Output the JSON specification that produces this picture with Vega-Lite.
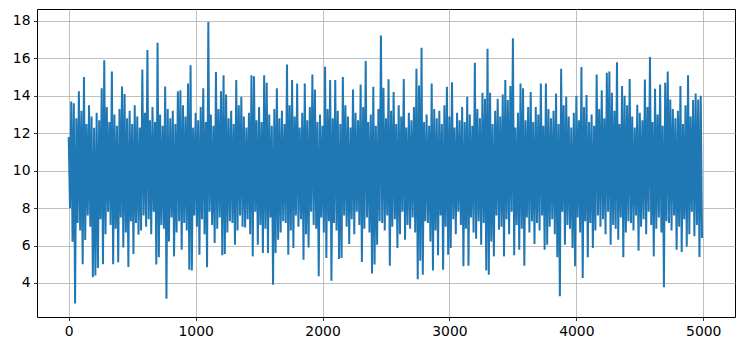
{
"$schema": "https://vega.github.io/schema/vega-lite/v6.json",
"width": 698, "height": 308,
"autosize": "none",
"padding": {"left": 37, "top": 9, "right": 9, "bottom": 34},
"background": "white",
"config": {"view": {"stroke": "black", "strokeWidth": 1}},
"data": {"values": [
{"x":0,"y":11.8},{"x":10,"y":8.0},{"x":20,"y":13.7},{"x":30,"y":6.2},{"x":40,"y":13.6},{"x":50,"y":2.9},{"x":60,"y":12.8},{"x":70,"y":7.2},{"x":80,"y":14.25},{"x":90,"y":6.8},
{"x":100,"y":13.2},{"x":110,"y":5.0},{"x":120,"y":15.0},{"x":130,"y":6.3},{"x":140,"y":12.5},{"x":150,"y":7.6},{"x":160,"y":13.5},{"x":170,"y":7.0},{"x":180,"y":12.9},{"x":190,"y":4.3},
{"x":200,"y":12.3},{"x":210,"y":4.4},{"x":220,"y":13.1},{"x":230,"y":4.8},{"x":240,"y":12.7},{"x":250,"y":7.4},{"x":260,"y":14.4},{"x":270,"y":5.0},{"x":280,"y":15.9},{"x":290,"y":6.6},
{"x":300,"y":13.4},{"x":310,"y":7.8},{"x":320,"y":12.6},{"x":330,"y":7.1},{"x":340,"y":15.3},{"x":350,"y":5.0},{"x":360,"y":13.0},{"x":370,"y":6.9},{"x":380,"y":12.4},{"x":390,"y":5.1},
{"x":400,"y":13.3},{"x":410,"y":7.5},{"x":420,"y":14.5},{"x":430,"y":5.9},{"x":440,"y":14.1},{"x":450,"y":6.7},{"x":460,"y":12.8},{"x":470,"y":4.85},{"x":480,"y":13.2},{"x":490,"y":7.3},
{"x":500,"y":12.5},{"x":510,"y":5.55},{"x":520,"y":13.5},{"x":530,"y":7.2},{"x":540,"y":12.9},{"x":550,"y":6.58},{"x":560,"y":12.3},{"x":570,"y":6.8},{"x":580,"y":15.4},{"x":590,"y":7.6},
{"x":600,"y":13.1},{"x":610,"y":7.0},{"x":620,"y":16.45},{"x":630,"y":7.4},{"x":640,"y":12.7},{"x":650,"y":6.6},{"x":660,"y":13.4},{"x":670,"y":7.8},{"x":680,"y":12.6},{"x":690,"y":4.98},
{"x":700,"y":16.84},{"x":710,"y":5.37},{"x":720,"y":13.0},{"x":730,"y":7.1},{"x":740,"y":12.4},{"x":750,"y":6.9},{"x":760,"y":14.5},{"x":770,"y":3.16},{"x":780,"y":13.3},{"x":790,"y":6.22},
{"x":800,"y":12.8},{"x":810,"y":7.5},{"x":820,"y":13.2},{"x":830,"y":5.42},{"x":840,"y":12.5},{"x":850,"y":6.7},{"x":860,"y":14.25},{"x":870,"y":7.3},{"x":880,"y":14.3},{"x":890,"y":5.78},
{"x":900,"y":13.5},{"x":910,"y":7.2},{"x":920,"y":12.9},{"x":930,"y":6.8},{"x":940,"y":14.66},{"x":950,"y":4.71},{"x":960,"y":15.64},{"x":970,"y":4.66},{"x":980,"y":12.3},{"x":990,"y":7.6},
{"x":1000,"y":13.1},{"x":1010,"y":7.0},{"x":1020,"y":12.7},{"x":1030,"y":5.51},{"x":1040,"y":13.4},{"x":1050,"y":7.4},{"x":1060,"y":14.4},{"x":1070,"y":6.6},{"x":1080,"y":12.6},{"x":1090,"y":4.84},
{"x":1100,"y":17.95},{"x":1110,"y":7.8},{"x":1120,"y":13.0},{"x":1130,"y":7.1},{"x":1140,"y":12.4},{"x":1150,"y":6.13},{"x":1160,"y":15.27},{"x":1170,"y":6.9},{"x":1180,"y":13.3},{"x":1190,"y":7.5},
{"x":1200,"y":14.25},{"x":1210,"y":5.48},{"x":1220,"y":15.1},{"x":1230,"y":5.55},{"x":1240,"y":14.07},{"x":1250,"y":6.7},{"x":1260,"y":12.8},{"x":1270,"y":7.3},{"x":1280,"y":13.2},{"x":1290,"y":7.2},
{"x":1300,"y":12.5},{"x":1310,"y":6.04},{"x":1320,"y":14.84},{"x":1330,"y":6.8},{"x":1340,"y":13.5},{"x":1350,"y":7.6},{"x":1360,"y":13.95},{"x":1370,"y":7.0},{"x":1380,"y":12.9},{"x":1390,"y":6.97},
{"x":1400,"y":12.3},{"x":1410,"y":7.4},{"x":1420,"y":13.1},{"x":1430,"y":6.6},{"x":1440,"y":15.1},{"x":1450,"y":5.42},{"x":1460,"y":15.05},{"x":1470,"y":7.8},{"x":1480,"y":12.7},{"x":1490,"y":6.04},
{"x":1500,"y":13.4},{"x":1510,"y":7.1},{"x":1520,"y":12.6},{"x":1530,"y":5.6},{"x":1540,"y":15.1},{"x":1550,"y":6.9},{"x":1560,"y":14.7},{"x":1570,"y":5.6},{"x":1580,"y":13.0},{"x":1590,"y":7.5},
{"x":1600,"y":12.4},{"x":1610,"y":3.91},{"x":1620,"y":13.3},{"x":1630,"y":5.6},{"x":1640,"y":14.4},{"x":1650,"y":6.31},{"x":1660,"y":12.8},{"x":1670,"y":6.7},{"x":1680,"y":13.2},{"x":1690,"y":7.3},
{"x":1700,"y":12.5},{"x":1710,"y":7.2},{"x":1720,"y":15.68},{"x":1730,"y":5.51},{"x":1740,"y":13.5},{"x":1750,"y":6.8},{"x":1760,"y":14.84},{"x":1770,"y":5.87},{"x":1780,"y":12.9},{"x":1790,"y":7.6},
{"x":1800,"y":14.66},{"x":1810,"y":7.0},{"x":1820,"y":12.3},{"x":1830,"y":7.4},{"x":1840,"y":13.1},{"x":1850,"y":5.24},{"x":1860,"y":14.66},{"x":1870,"y":6.6},{"x":1880,"y":12.7},{"x":1890,"y":5.9},
{"x":1900,"y":13.4},{"x":1910,"y":7.8},{"x":1920,"y":15.14},{"x":1930,"y":7.1},{"x":1940,"y":14.34},{"x":1950,"y":6.9},{"x":1960,"y":12.6},{"x":1970,"y":4.36},{"x":1980,"y":13.0},{"x":1990,"y":7.5},
{"x":2000,"y":12.4},{"x":2010,"y":6.7},{"x":2020,"y":15.55},{"x":2030,"y":5.33},{"x":2040,"y":13.3},{"x":2050,"y":7.3},{"x":2060,"y":14.84},{"x":2070,"y":4.12},{"x":2080,"y":12.8},{"x":2090,"y":7.2},
{"x":2100,"y":14.84},{"x":2110,"y":6.8},{"x":2120,"y":13.2},{"x":2130,"y":5.28},{"x":2140,"y":12.5},{"x":2150,"y":5.33},{"x":2160,"y":15.0},{"x":2170,"y":7.6},{"x":2180,"y":13.5},{"x":2190,"y":7.0},
{"x":2200,"y":12.9},{"x":2210,"y":6.08},{"x":2220,"y":12.3},{"x":2230,"y":7.4},{"x":2240,"y":14.34},{"x":2250,"y":6.6},{"x":2260,"y":13.1},{"x":2270,"y":7.8},{"x":2280,"y":12.7},{"x":2290,"y":7.1},
{"x":2300,"y":14.6},{"x":2310,"y":5.12},{"x":2320,"y":13.4},{"x":2330,"y":6.9},{"x":2340,"y":15.86},{"x":2350,"y":7.5},{"x":2360,"y":12.6},{"x":2370,"y":6.7},{"x":2380,"y":13.0},{"x":2390,"y":4.5},
{"x":2400,"y":14.48},{"x":2410,"y":4.98},{"x":2420,"y":12.4},{"x":2430,"y":6.04},{"x":2440,"y":13.3},{"x":2450,"y":7.3},{"x":2460,"y":17.23},{"x":2470,"y":7.2},{"x":2480,"y":14.43},{"x":2490,"y":6.8},
{"x":2500,"y":12.8},{"x":2510,"y":7.6},{"x":2520,"y":14.88},{"x":2530,"y":4.92},{"x":2540,"y":13.2},{"x":2550,"y":7.0},{"x":2560,"y":14.2},{"x":2570,"y":7.4},{"x":2580,"y":12.5},{"x":2590,"y":5.87},
{"x":2600,"y":13.5},{"x":2610,"y":6.6},{"x":2620,"y":12.9},{"x":2630,"y":7.8},{"x":2640,"y":14.9},{"x":2650,"y":6.31},{"x":2660,"y":12.3},{"x":2670,"y":7.1},{"x":2680,"y":13.1},{"x":2690,"y":6.9},
{"x":2700,"y":12.7},{"x":2710,"y":7.5},{"x":2720,"y":13.4},{"x":2730,"y":6.7},{"x":2740,"y":15.45},{"x":2750,"y":4.2},{"x":2760,"y":14.55},{"x":2770,"y":5.19},{"x":2780,"y":16.57},{"x":2790,"y":4.44},
{"x":2800,"y":12.6},{"x":2810,"y":7.3},{"x":2820,"y":13.0},{"x":2830,"y":7.2},{"x":2840,"y":12.4},{"x":2850,"y":6.22},{"x":2860,"y":14.66},{"x":2870,"y":4.66},{"x":2880,"y":13.3},{"x":2890,"y":6.8},
{"x":2900,"y":12.8},{"x":2910,"y":5.48},{"x":2920,"y":13.2},{"x":2930,"y":7.6},{"x":2940,"y":12.5},{"x":2950,"y":4.71},{"x":2960,"y":13.5},{"x":2970,"y":7.0},{"x":2980,"y":14.48},{"x":2990,"y":5.51},
{"x":3000,"y":12.9},{"x":3010,"y":5.87},{"x":3020,"y":14.73},{"x":3030,"y":7.4},{"x":3040,"y":12.3},{"x":3050,"y":6.6},{"x":3060,"y":13.1},{"x":3070,"y":7.8},{"x":3080,"y":12.7},{"x":3090,"y":7.1},
{"x":3100,"y":13.4},{"x":3110,"y":4.89},{"x":3120,"y":12.6},{"x":3130,"y":6.9},{"x":3140,"y":13.95},{"x":3150,"y":4.92},{"x":3160,"y":13.0},{"x":3170,"y":7.5},{"x":3180,"y":12.4},{"x":3190,"y":6.7},
{"x":3200,"y":15.77},{"x":3210,"y":6.36},{"x":3220,"y":13.3},{"x":3230,"y":7.3},{"x":3240,"y":12.8},{"x":3250,"y":6.04},{"x":3260,"y":14.16},{"x":3270,"y":7.2},{"x":3280,"y":13.84},{"x":3290,"y":4.66},
{"x":3300,"y":16.52},{"x":3310,"y":4.44},{"x":3320,"y":14.16},{"x":3330,"y":6.22},{"x":3340,"y":12.5},{"x":3350,"y":5.42},{"x":3360,"y":13.2},{"x":3370,"y":7.6},{"x":3380,"y":13.84},{"x":3390,"y":6.84},
{"x":3400,"y":12.9},{"x":3410,"y":7.0},{"x":3420,"y":14.07},{"x":3430,"y":5.42},{"x":3440,"y":14.84},{"x":3450,"y":7.4},{"x":3460,"y":13.77},{"x":3470,"y":6.6},{"x":3480,"y":14.52},{"x":3490,"y":7.8},
{"x":3500,"y":17.07},{"x":3510,"y":5.48},{"x":3520,"y":12.3},{"x":3530,"y":7.1},{"x":3540,"y":13.1},{"x":3550,"y":5.78},{"x":3560,"y":14.66},{"x":3570,"y":6.9},{"x":3580,"y":14.41},{"x":3590,"y":4.92},
{"x":3600,"y":12.7},{"x":3610,"y":7.5},{"x":3620,"y":13.4},{"x":3630,"y":6.7},{"x":3640,"y":14.2},{"x":3650,"y":7.3},{"x":3660,"y":12.6},{"x":3670,"y":6.08},{"x":3680,"y":13.4},{"x":3690,"y":7.2},
{"x":3700,"y":13.0},{"x":3710,"y":6.8},{"x":3720,"y":14.66},{"x":3730,"y":7.6},{"x":3740,"y":12.4},{"x":3750,"y":5.78},{"x":3760,"y":14.66},{"x":3770,"y":6.04},{"x":3780,"y":13.3},{"x":3790,"y":7.0},
{"x":3800,"y":12.8},{"x":3810,"y":7.4},{"x":3820,"y":13.2},{"x":3830,"y":6.6},{"x":3840,"y":14.13},{"x":3850,"y":5.37},{"x":3860,"y":12.5},{"x":3870,"y":3.29},{"x":3880,"y":15.45},{"x":3890,"y":7.8},
{"x":3900,"y":13.5},{"x":3910,"y":6.04},{"x":3920,"y":13.95},{"x":3930,"y":7.1},{"x":3940,"y":12.9},{"x":3950,"y":6.9},{"x":3960,"y":12.3},{"x":3970,"y":5.87},{"x":3980,"y":13.1},{"x":3990,"y":4.89},
{"x":4000,"y":14.0},{"x":4010,"y":7.5},{"x":4020,"y":12.7},{"x":4030,"y":6.7},{"x":4040,"y":15.54},{"x":4050,"y":4.27},{"x":4060,"y":13.4},{"x":4070,"y":7.3},{"x":4080,"y":14.05},{"x":4090,"y":5.37},
{"x":4100,"y":12.6},{"x":4110,"y":7.2},{"x":4120,"y":13.0},{"x":4130,"y":5.87},{"x":4140,"y":12.4},{"x":4150,"y":6.8},{"x":4160,"y":15.14},{"x":4170,"y":7.6},{"x":4180,"y":13.3},{"x":4190,"y":7.0},
{"x":4200,"y":14.3},{"x":4210,"y":7.4},{"x":4220,"y":12.8},{"x":4230,"y":6.6},{"x":4240,"y":15.23},{"x":4250,"y":7.8},{"x":4260,"y":15.3},{"x":4270,"y":6.04},{"x":4280,"y":14.16},{"x":4290,"y":7.1},
{"x":4300,"y":13.2},{"x":4310,"y":6.9},{"x":4320,"y":15.8},{"x":4330,"y":6.31},{"x":4340,"y":12.5},{"x":4350,"y":7.5},{"x":4360,"y":14.52},{"x":4370,"y":5.37},{"x":4380,"y":14.0},{"x":4390,"y":6.7},
{"x":4400,"y":13.5},{"x":4410,"y":7.3},{"x":4420,"y":14.9},{"x":4430,"y":7.2},{"x":4440,"y":12.9},{"x":4450,"y":6.8},{"x":4460,"y":12.3},{"x":4470,"y":7.6},{"x":4480,"y":13.52},{"x":4490,"y":5.72},
{"x":4500,"y":13.1},{"x":4510,"y":7.0},{"x":4520,"y":12.7},{"x":4530,"y":7.4},{"x":4540,"y":14.87},{"x":4550,"y":6.6},{"x":4560,"y":13.4},{"x":4570,"y":7.8},{"x":4580,"y":16.07},{"x":4590,"y":7.1},
{"x":4600,"y":12.6},{"x":4610,"y":5.42},{"x":4620,"y":14.38},{"x":4630,"y":6.9},{"x":4640,"y":13.0},{"x":4650,"y":7.5},{"x":4660,"y":14.6},{"x":4670,"y":6.7},{"x":4680,"y":12.4},{"x":4690,"y":3.77},
{"x":4700,"y":14.7},{"x":4710,"y":7.3},{"x":4720,"y":15.3},{"x":4730,"y":7.2},{"x":4740,"y":13.8},{"x":4750,"y":6.8},{"x":4760,"y":13.3},{"x":4770,"y":7.6},{"x":4780,"y":12.8},{"x":4790,"y":5.78},
{"x":4800,"y":13.2},{"x":4810,"y":7.0},{"x":4820,"y":14.52},{"x":4830,"y":5.65},{"x":4840,"y":12.5},{"x":4850,"y":7.4},{"x":4860,"y":13.5},{"x":4870,"y":5.95},{"x":4880,"y":15.1},{"x":4890,"y":6.6},
{"x":4900,"y":12.9},{"x":4910,"y":7.8},{"x":4920,"y":13.77},{"x":4930,"y":6.49},{"x":4940,"y":14.13},{"x":4950,"y":7.1},{"x":4960,"y":13.8},{"x":4970,"y":5.38},{"x":4980,"y":14.0},{"x":4990,"y":6.4}
]},
"mark": {"type": "line", "color": "#1f77b4", "strokeWidth": 2, "clip": true},
"encoding": {
  "x": {"field": "x", "type": "quantitative",
        "scale": {"domain": [-250, 5250], "nice": false, "zero": false},
        "axis": {"values": [0, 1000, 2000, 3000, 4000, 5000], "title": null, "format": "d",
                 "grid": true, "gridColor": "#b0b0b0", "gridWidth": 0.8,
                 "domain": false, "ticks": true, "tickColor": "black", "tickSize": 3.5, "tickWidth": 0.8,
                 "labelFont": "DejaVu Sans", "labelFontSize": 13.9, "labelColor": "black", "labelPadding": 3.5,
                 "labelFlush": false, "labelOverlap": false}},
  "y": {"field": "y", "type": "quantitative",
        "scale": {"domain": [2.18, 18.64], "nice": false, "zero": false},
        "axis": {"values": [4, 6, 8, 10, 12, 14, 16, 18], "title": null, "format": "d",
                 "grid": true, "gridColor": "#b0b0b0", "gridWidth": 0.8,
                 "domain": false, "ticks": true, "tickColor": "black", "tickSize": 3.5, "tickWidth": 0.8,
                 "labelFont": "DejaVu Sans", "labelFontSize": 13.9, "labelColor": "black", "labelPadding": 3.5,
                 "labelFlush": false, "labelOverlap": false}}
}
}
